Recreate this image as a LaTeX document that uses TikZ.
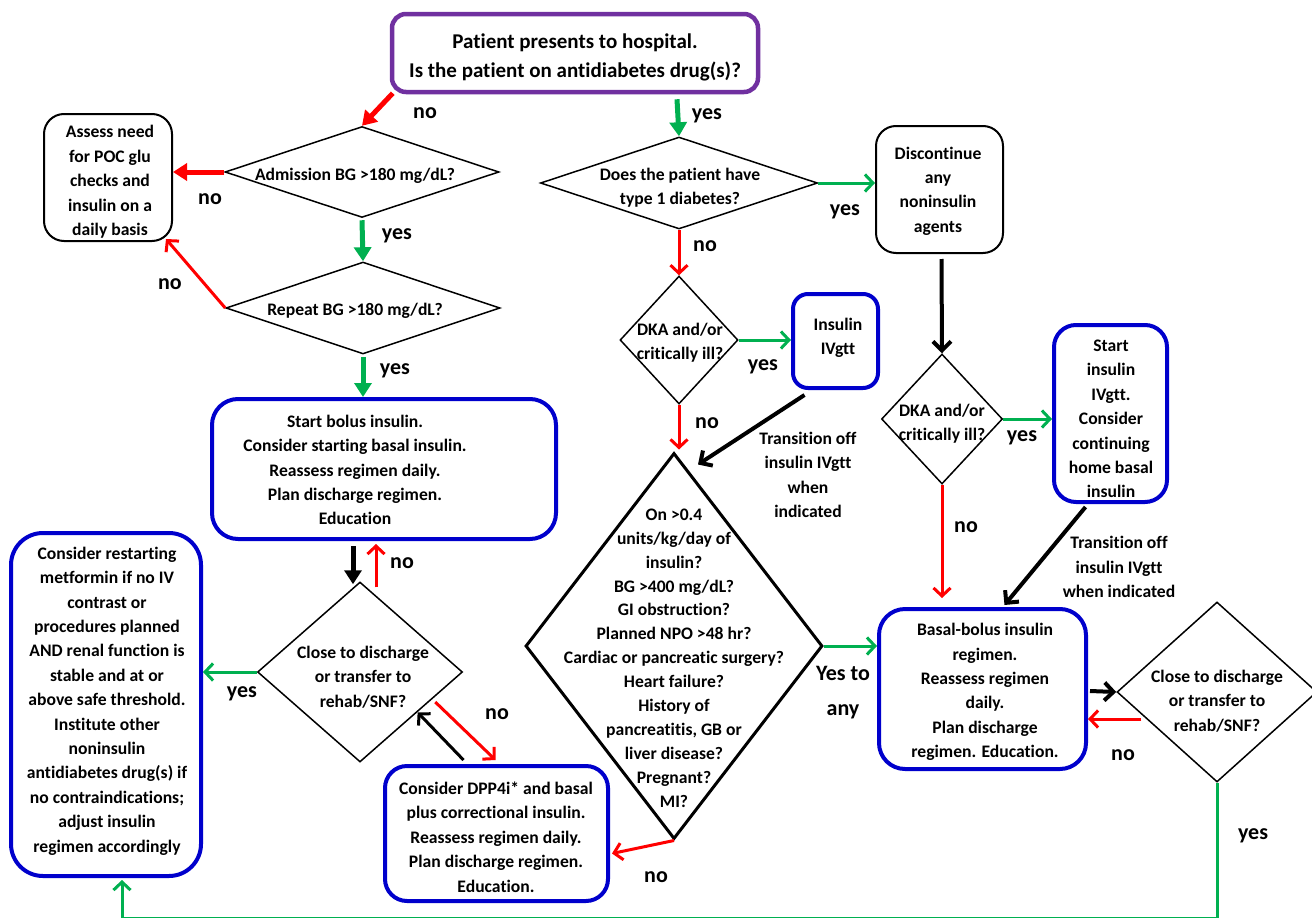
\documentclass[tikz,border=0pt]{standalone}
\usepackage{fontspec}
\setmainfont{Carlito}[Ligatures={NoCommon}]
\usetikzlibrary{shapes.geometric,arrows.meta,calc}
\definecolor{mypurple}{RGB}{112,48,160}
\definecolor{myblue}{RGB}{0,0,204}
\definecolor{mygreen}{RGB}{0,176,80}
\definecolor{myred}{RGB}{255,0,0}
\tikzset{
 txt/.style={font=\bfseries\fontsize{17.6pt}{24.4pt}\selectfont, align=center, inner sep=0pt},
 lab/.style={font=\bfseries\fontsize{22pt}{35pt}\selectfont, align=center, inner sep=0pt},
 dia/.style={draw, diamond, line width=1.5pt, inner sep=0pt},
 bbox/.style={draw=myblue, line width=4pt, rounded corners=22pt, inner sep=0pt},
 kbox/.style={draw=black, line width=2pt, rounded corners=20pt, inner sep=0pt},
 arrF/.style={line width=5pt, -{Triangle[length=14pt,width=17pt]}},
 arrO/.style={line width=3pt, -{Straight Barb[length=8pt,width=17pt]}},
 arrK/.style={line width=4pt, -{Straight Barb[length=9pt,width=18pt]}},
}
\begin{document}
\begin{tikzpicture}[x=1pt,y=-1pt]
\fill[white] (0,0) rectangle (1312,918);
\useasboundingbox (0,0) rectangle (1312,918);

% ---------- boxes ----------
\node[draw=mypurple, line width=4.5pt, rounded corners=14pt, minimum width=366pt, minimum height=78pt] (top) at (575,53) {};
\node[font=\bfseries\fontsize{21pt}{29pt}\selectfont, align=center, inner sep=0pt] (toptxt) at (575,57) {Patient presents to hospital.\\Is the patient on antidiabetes drug(s)?};

\node[kbox, minimum width=128pt, minimum height=127pt] (assess) at (108,177.5) {};
\node[txt] (assesstxt) at (110,182) {Assess need\\for POC glu\\checks and\\insulin on a\\daily basis};

\node[bbox, rounded corners=26pt, minimum width=344pt, minimum height=140pt] (sb) at (384,469) {};
\node[txt] (sbtxt) at (355,470) {Start bolus insulin.\\Consider starting basal insulin.\\Reassess regimen daily.\\Plan discharge regimen.\\Education};

\node[bbox, rounded corners=32pt, minimum width=190pt, minimum height=343pt] (restart) at (106,704.5) {};
\node[txt] (restarttxt) at (107,701) {Consider restarting\\metformin if no IV\\contrast or\\procedures planned\\AND renal function is\\stable and at or\\above safe threshold.\\Institute other\\noninsulin\\antidiabetes drug(s) if\\no contraindications;\\adjust insulin\\regimen accordingly};

\node[bbox, minimum width=223pt, minimum height=135pt] (dpp) at (496.5,833.5) {};
\node[txt] (dpptxt) at (496,837) {Consider DPP4i* and basal\\plus correctional insulin.\\Reassess regimen daily.\\Plan discharge regimen.\\Education.};

\node[kbox, minimum width=127pt, minimum height=127pt] (disc) at (939.5,189.5) {};
\node[txt] (disctxt) at (938,191) {Discontinue\\any\\noninsulin\\agents};

\node[bbox, rounded corners=15pt, minimum width=85pt, minimum height=94pt] (iv) at (835.5,341) {};
\node[txt] (ivtxt) at (838,338) {Insulin\\IVgtt};

\node[bbox, minimum width=113pt, minimum height=177pt] (si) at (1110.5,413.5) {};
\node[txt] (sitxt) at (1111,419) {Start\\insulin\\IVgtt.\\Consider\\continuing\\home basal\\insulin};

\node[bbox, rounded corners=26pt, minimum width=207pt, minimum height=160pt] (bb) at (982.5,689) {};
\node[txt] (bbtxt) at (985,692) {Basal-bolus insulin\\regimen.\\Reassess regimen\\daily.\\Plan discharge\\regimen. Education.};

% ---------- diamonds ----------
\node[dia, minimum width=274pt, minimum height=91pt] (dadm) at (362,172) {};
\node[txt] (dadmtxt) at (355,176) {Admission BG >180 mg/dL?};

\node[dia, minimum width=274pt, minimum height=92pt] (drep) at (363,308) {};
\node[txt] (dreptxt) at (355,311) {Repeat BG >180 mg/dL?};

\node[dia, minimum width=205pt, minimum height=180pt] (dcl) at (360,672) {};
\node[txt] (dcltxt) at (363,677) {Close to discharge\\or transfer to\\rehab/SNF?};

\node[dia, minimum width=277pt, minimum height=92pt] (dt1) at (679,183) {};
\node[txt] (dt1txt) at (680,188) {Does the patient have\\type 1 diabetes?};

\node[dia, minimum width=118pt, minimum height=128pt] (dk1) at (679,340) {};
\node[txt] (dk1txt) at (680,343) {DKA and/or\\critically ill?};

\node[dia, line width=3pt, minimum width=297pt, minimum height=386pt] (big) at (674,646) {};
\node[txt, font=\bfseries\fontsize{17.6pt}{23.9pt}\selectfont] (bigtxt) at (674,658) {On >0.4\\units/kg/day of\\insulin?\\BG >400 mg/dL?\\GI obstruction?\\Planned NPO >48 hr?\\Cardiac or pancreatic surgery?\\Heart failure?\\History of\\pancreatitis, GB or\\liver disease?\\Pregnant?\\MI?};

\node[dia, minimum width=121pt, minimum height=130pt] (dk2) at (942,419) {};
\node[txt] (dk2txt) at (942,424) {DKA and/or\\critically ill?};

\node[dia, minimum width=200pt, minimum height=180pt] (dcr) at (1217,692) {};
\node[txt] (dcrtxt) at (1217,701) {Close to discharge\\or transfer to\\rehab/SNF?};

% ---------- side texts ----------
\node[txt] (tr1) at (808,475) {Transition off\\insulin IVgtt\\when\\indicated};
\node[txt] (tr2) at (1119,567) {Transition off\\insulin IVgtt\\when indicated};

% ---------- connectors ----------
\draw[arrF, myred] ($(top.south west)+(3,-1)$) -- (dadm.north);
\draw[arrF, mygreen] ($(top.south -| dt1.north)+(-2,5)$) -- (dt1.north);
\draw[arrF, myred] (dadm.west) -- (dadm.west -| assess.east);
\draw[arrF, mygreen] ($(dadm.south)+(0,2)$) -- (drep.north);
\draw[arrO, myred] (drep.west) -- ($(assess.south east)+(-7,-3)$);
\draw[arrF, mygreen] ($(drep.south)+(0,2)$) -- (drep.south |- sb.north);
\draw[arrF, black] ($(sb.south)+(-31,5)$) -- ($(dcl.north)+(-7,3)$);
\draw[arrO, myred] ($(dcl.north)+(16,6)$) -- ($(sb.south)+(-8,3)$);
\draw[arrO, mygreen] (dcl.west) -- (dcl.west -| restart.east);
\draw[arrO, myred] ($(dcl.east)+(-28,30)$) -- ($(dpp.north)+(-1,-4)$);
\draw[arrO, black] ($(dpp.north)+(-33,-4)$) -- ($(dcl.south east)+(6,-5)$);

\draw[arrO, mygreen] (dt1.east) -- (dt1.east -| disc.west);
\draw[arrO, myred] (dt1.south) -- (dk1.north);
\draw[arrO, mygreen] (dk1.east) -- (dk1.east -| iv.west);
\draw[arrO, myred] (dk1.south) -- ($(dk1.south |- big.north)+(0,-2)$);
\draw[arrK, black] ($(iv.south)+(-31,5)$) -- ($(big.north)+(24,13)$);
\draw[arrK, black] ($(disc.south)+(2,5)$) -- (dk2.north);
\draw[arrO, mygreen] (dk2.east) -- (dk2.east -| si.west);
\draw[arrO, myred] (dk2.south) -- ($(dk2.south |- bb.north)+(0,-9)$);
\draw[arrK, black] ($(si.south)+(-25,3)$) -- ($(bb.north)+(22,-2)$);
\draw[arrO, mygreen] (big.east) -- (big.east -| bb.west);
\draw[arrK, black] ($(bb.east)+(2,2)$) -- (dcr.west);
\coordinate (rr) at ($(dcr.west)+(25,27)$);
\draw[arrO, myred] (rr) -- (rr -| bb.east);
\draw[arrO, myred] (big.south) -- ($(dpp.east)+(2,20)$);
\coordinate (bot) at (0,918.6);
\coordinate (rs) at ($(restart.south)+(16,2)$);
\draw[arrO, mygreen] (dcr.south) -- (dcr.south |- bot) -- (rs |- bot) -- (rs);

% ---------- labels ----------
\node[lab] (l1) at (425,113) {no};
\node[lab] (l2) at (210,199) {no};
\node[lab] (l3) at (397,236) {yes};
\node[lab] (l4) at (170,284) {no};
\node[lab] (l5) at (395,371) {yes};
\node[lab] (l6) at (402,563) {no};
\node[lab] (l7) at (242,694) {yes};
\node[lab] (l8) at (497,714) {no};
\node[lab] (l9) at (707,116) {yes};
\node[lab] (l10) at (845,212) {yes};
\node[lab] (l11) at (705,246) {no};
\node[lab] (l12) at (763,367) {yes};
\node[lab] (l13) at (707,423) {no};
\node[lab] (l14) at (1022,438) {yes};
\node[lab] (l15) at (966,527) {no};
\node[lab] (l16) at (843,693) {Yes to\\any};
\node[lab] (l17) at (1123,755) {no};
\node[lab] (l18) at (1253,836) {yes};
\node[lab] (l19) at (656,877) {no};
\end{tikzpicture}
\end{document}
